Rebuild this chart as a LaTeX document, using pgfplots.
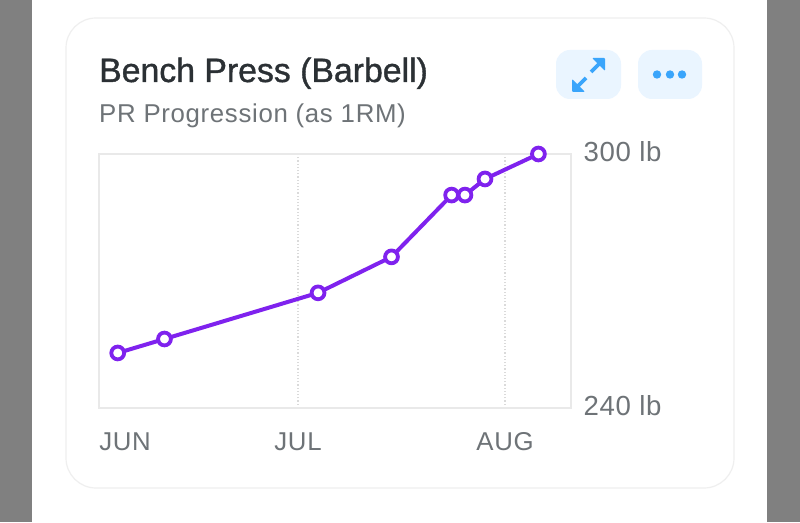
\documentclass[border=0pt]{standalone}
\usepackage{fontspec}
\setmainfont{Liberation Sans}
\newfontfamily\titlefont[FakeBold=1.1]{Liberation Sans}
\newfontfamily\subfont[LetterSpace=2.6]{Liberation Sans}
\newfontfamily\tickfont[LetterSpace=2.6]{Liberation Sans}
\usepackage{pgfplots}
\pgfplotsset{compat=1.18}
\definecolor{sidegrey}{HTML}{808080}
\definecolor{cardline}{HTML}{EFEFEF}
\definecolor{framegrey}{HTML}{E9E9E9}
\definecolor{gridgrey}{HTML}{DADADA}
\definecolor{btnblue}{HTML}{EAF5FF}
\definecolor{iconblue}{HTML}{3AA5FB}
\definecolor{prpurple}{HTML}{7F22EE}
\definecolor{titletext}{HTML}{2B3034}
\definecolor{subtext}{HTML}{6E7377}
\begin{document}
\begin{tikzpicture}
\path[use as bounding box] (0,0) rectangle (800pt,522pt);
% card and buttons, in image pixels (y down)
\begin{scope}[x=1pt,y=-1pt,shift={(0pt,522pt)}]
\fill[white] (0,0) rectangle (800,522);
\fill[sidegrey] (0,0) rectangle (32,522);
\fill[sidegrey] (767,0) rectangle (800,522);
\draw[cardline,line width=1.2pt,rounded corners=30pt] (66,18) rectangle (734,488);
\fill[btnblue,rounded corners=14pt] (556,50) rectangle (621,99);
\fill[btnblue,rounded corners=14pt] (638,50) rectangle (702,99);
% expand icon
\fill[iconblue,rounded corners=1pt] (592,58) -- (605,58) -- (605,71) -- cycle;
\fill[iconblue,rounded corners=1pt] (572,79) -- (572,92) -- (585,92) -- cycle;
\draw[iconblue,line width=3.8pt] (600,63) -- (591,72);
\draw[iconblue,line width=3.8pt] (577,87) -- (586,78);
\fill[iconblue] (657,74.5) circle (4.2pt) (670,74.5) circle (4.2pt) (682,74.5) circle (4.2pt);
\node[anchor=base west,inner sep=0pt,text=titletext] at (99,82)
  {\titlefont\fontsize{33.8}{38}\selectfont Bench Press (Barbell)};
\node[anchor=base west,inner sep=0pt,text=subtext] at (99,123)
  {\subfont\fontsize{25.8}{30}\selectfont PR Progression (as 1RM)};
\end{scope}
\begin{axis}[
    at={(99pt,114pt)},
    anchor=south west,
    scale only axis,
    width=472pt,
    height=254pt,
    xmin=0.196, xmax=70.88,
    ymin=240, ymax=300,
    axis line style={framegrey,line width=2pt},
    clip=false,
    xtick={30,61},
    xticklabels={JUL,AUG},
    extra x ticks={4.1},
    extra x tick labels={JUN},
    extra x tick style={grid=none},
    ytick={240,300},
    yticklabel pos=right,
    yticklabel={\pgfmathprintnumber{\tick} lb},
    /pgf/number format/assume math mode=true,
    major tick length=0pt,
    xmajorgrids,
    major x grid style={gridgrey,line width=1.2pt,dotted},
    ymajorgrids=false,
    xticklabel style={font=\tickfont\fontsize{25.8}{30}\selectfont,text=subtext,yshift=-21pt},
    yticklabel style={font=\tickfont\fontsize{27.6}{30}\selectfont,text=subtext,xshift=9pt,yshift=2pt},
]
\addplot[
    color=prpurple,
    line width=4pt,
    mark=*,
    mark size=6.4pt,
    mark options={fill=white,draw=prpurple,line width=3.8pt},
] coordinates {
    (3,253.0)
    (10,256.3)
    (33,267.2)
    (44,275.7)
    (53,290.3)
    (55,290.3)
    (58,294.1)
    (66,300)
};
\end{axis}
\end{tikzpicture}
\end{document}
